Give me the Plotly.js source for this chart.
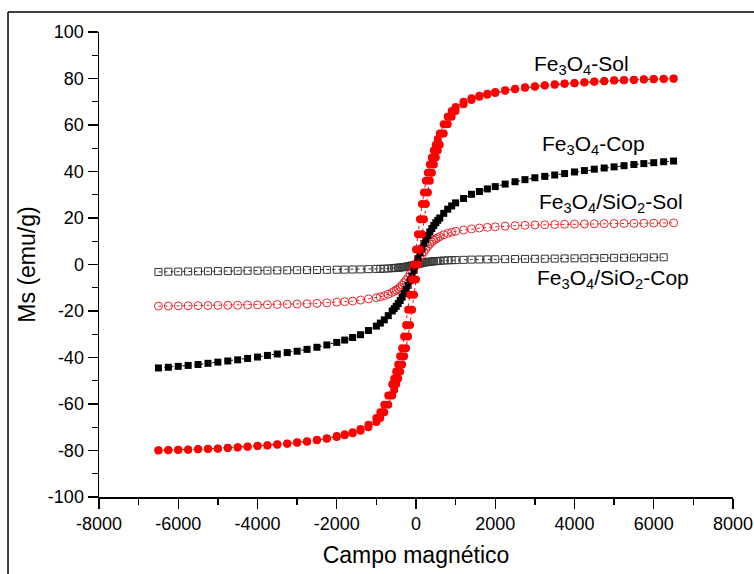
<!DOCTYPE html>
<html>
<head>
<meta charset="utf-8">
<script src="https://cdn.plot.ly/plotly-3.0.1.min.js"></script>
<style>html,body{margin:0;padding:0;background:#fff;}#chart{width:754px;height:574px;}</style>
</head>
<body>
<div id="chart"></div>
<script>
// Magnetic field (Oe), descending sweep +6500 -> -6500
var fieldDown = [6500, 6250, 6000, 5750, 5500, 5250, 5000, 4750, 4500, 4250, 4000, 3750, 3500, 3250, 3000, 2750, 2500, 2250, 2000,
  1800, 1600, 1400, 1200, 1000, 900, 800, 700, 600, 550, 500, 450, 400, 350, 300, 250, 200, 150, 100, 50, 0,
  -50, -100, -150, -200, -250, -300, -350, -400, -450, -500, -550, -600, -700, -800, -900, -1000,
  -1200, -1400, -1600, -1800, -2000, -2250, -2500, -2750, -3000, -3250, -3500, -3750, -4000, -4250, -4500, -4750,
  -5000, -5250, -5500, -5750, -6000, -6250, -6500];
// Magnetic field (Oe), ascending sweep -6500 -> +6500
var fieldUp = [-6500, -6250, -6000, -5750, -5500, -5250, -5000, -4750, -4500, -4250, -4000, -3750, -3500, -3250, -3000, -2750, -2500, -2250, -2000,
  -1800, -1600, -1400, -1200, -1000, -900, -800, -700, -600, -550, -500, -450, -400, -350, -300, -250, -200, -150, -100, -50, 0,
  50, 100, 150, 200, 250, 300, 350, 400, 450, 500, 550, 600, 700, 800, 900, 1000,
  1200, 1400, 1600, 1800, 2000, 2250, 2500, 2750, 3000, 3250, 3500, 3750, 4000, 4250, 4500, 4750,
  5000, 5250, 5500, 5750, 6000, 6250, 6500];

// Fe3O4-Sol (emu/g)
var solDown = [80, 79.9, 79.8, 79.7, 79.5, 79.4, 79.2, 78.9, 78.7, 78.4, 78.1, 77.8, 77.5, 77.1, 76.7, 76.2, 75.6, 74.9, 74.2,
  73.4, 72.6, 71.5, 70, 67.7, 66, 63.5, 60.3, 56.3, 54, 51.5, 49, 46, 43, 39.5, 36, 31, 26, 19.5, 13, 6.5,
  0, -6.5, -13, -19.5, -26, -31, -36, -39.5, -43, -46, -49, -51.5, -56.3, -60.3, -63.5, -66,
  -68.9, -70.8, -72.1, -73, -73.8, -74.7, -75.4, -76, -76.5, -77, -77.3, -77.7, -78, -78.3, -78.6, -78.8,
  -79.1, -79.3, -79.4, -79.6, -79.7, -79.8, -79.9];
var solUp = [-80, -79.9, -79.8, -79.7, -79.5, -79.4, -79.2, -78.9, -78.7, -78.4, -78.1, -77.8, -77.5, -77.1, -76.7, -76.2, -75.6, -74.9, -74.2,
  -73.4, -72.6, -71.5, -70, -67.7, -66, -63.5, -60.3, -56.3, -54, -51.5, -49, -46, -43, -39.5, -36, -31, -26, -19.5, -13, -6.5,
  0, 6.5, 13, 19.5, 26, 31, 36, 39.5, 43, 46, 49, 51.5, 56.3, 60.3, 63.5, 66,
  68.9, 70.8, 72.1, 73, 73.8, 74.7, 75.4, 76, 76.5, 77, 77.3, 77.7, 78, 78.3, 78.6, 78.8,
  79.1, 79.3, 79.4, 79.6, 79.7, 79.8, 79.9];

// Fe3O4-Cop (emu/g), on fieldUp
var cop = [-44.5, -44.2, -43.8, -43.4, -43, -42.5, -42, -41.5, -41, -40.4, -39.8, -39.1, -38.5, -37.9, -37.3, -36.5, -35.6, -34.6, -33.5,
  -32.5, -31.4, -30.2, -28.4, -26.5, -25.2, -23.8, -22, -20, -19, -18, -16.8, -15.5, -14, -12.5, -10.8, -9, -7, -5, -2.5, 0,
  2.5, 5, 7, 9, 10.8, 12.5, 14, 15.5, 16.8, 18, 19, 20, 22, 23.8, 25.2, 26.5,
  28.4, 30.2, 31.4, 32.5, 33.5, 34.6, 35.6, 36.5, 37.3, 37.9, 38.5, 39.1, 39.8, 40.4, 41, 41.5,
  42, 42.5, 43, 43.4, 43.8, 44.2, 44.5];

// Fe3O4/SiO2-Sol (emu/g), on fieldUp
var silSol = [-17.9, -17.85, -17.8, -17.75, -17.7, -17.65, -17.6, -17.55, -17.5, -17.45, -17.4, -17.3, -17.2, -17.1, -17, -16.9, -16.7, -16.5, -16.2,
  -16, -15.7, -15.3, -14.8, -14.3, -13.9, -13.4, -12.8, -12, -11.5, -11, -10.4, -9.7, -8.8, -7.8, -6.7, -5.5, -4.2, -2.9, -1.5, 0,
  1.5, 2.9, 4.2, 5.5, 6.7, 7.8, 8.8, 9.7, 10.4, 11, 11.5, 12, 12.8, 13.4, 13.9, 14.3,
  14.8, 15.3, 15.7, 16, 16.2, 16.5, 16.7, 16.9, 17, 17.1, 17.2, 17.3, 17.4, 17.45, 17.5, 17.55,
  17.6, 17.65, 17.7, 17.75, 17.8, 17.85, 17.9];

// Fe3O4/SiO2-Cop (emu/g), on fieldUp (no point at +6500)
var silCop = [-3.2, -3.1, -3.05, -3, -2.95, -2.9, -2.85, -2.8, -2.75, -2.7, -2.65, -2.6, -2.55, -2.5, -2.45, -2.4, -2.35, -2.3, -2.25,
  -2.2, -2.15, -2.1, -2, -1.9, -1.85, -1.8, -1.7, -1.6, -1.5, -1.45, -1.4, -1.3, -1.2, -1.1, -0.95, -0.8, -0.6, -0.4, -0.2, 0,
  0.2, 0.4, 0.6, 0.8, 0.95, 1.1, 1.2, 1.3, 1.4, 1.45, 1.5, 1.6, 1.7, 1.8, 1.85, 1.9,
  2, 2.1, 2.15, 2.2, 2.25, 2.3, 2.35, 2.4, 2.45, 2.5, 2.55, 2.6, 2.65, 2.7, 2.75, 2.8,
  2.85, 2.9, 2.95, 3, 3.05, 3.1, null];

var xTickVals = [-8000, -6000, -4000, -2000, 0, 2000, 4000, 6000, 8000];
var yTickVals = [-100, -80, -60, -40, -20, 0, 20, 40, 60, 80, 100];
var seriesLabels = ["Fe<sub>3</sub>O<sub>4</sub>-Sol", "Fe<sub>3</sub>O<sub>4</sub>-Cop",
  "Fe<sub>3</sub>O<sub>4</sub>/SiO<sub>2</sub>-Sol", "Fe<sub>3</sub>O<sub>4</sub>/SiO<sub>2</sub>-Cop"];

var FONT = "Liberation Sans, Arial, Helvetica, sans-serif";
function line(c){ return {color: c, width: 1, dash: 'dot'}; }

var traces = [
  {x: fieldUp, y: silCop, mode: 'lines+markers', line: line('#333'),
   marker: {symbol: 'square-open', size: 7, color: '#333', line: {width: 1, color: '#333'}}},
  {x: fieldUp, y: silSol, mode: 'lines+markers', line: line('#e8262b'),
   marker: {symbol: 'circle-open', size: 8, color: '#e8262b', line: {width: 1, color: '#e8262b'}}},
  {x: fieldUp, y: cop, mode: 'lines+markers', line: line('#000'),
   marker: {symbol: 'square', size: 7, color: '#000'}},
  {x: fieldDown, y: solDown, mode: 'lines+markers', line: line('#ff0000'),
   marker: {symbol: 'circle', size: 8, color: '#ff0000'}},
  {x: fieldUp, y: solUp, mode: 'lines+markers', line: line('#ff0000'),
   marker: {symbol: 'circle', size: 8, color: '#ff0000'}}
];

var labelPos = [[2927, 85.6], [3129, 51.4], [3054, 26.4], [3003, -6.4]];
var annotations = seriesLabels.map(function(t, i){
  return {text: t, x: labelPos[i][0], y: labelPos[i][1], xref: 'x', yref: 'y',
    xanchor: 'left', yanchor: 'middle', showarrow: false,
    font: {family: FONT, size: 21, color: '#000'}};
});

var layout = {
  width: 754, height: 574,
  margin: {l: 99, r: 21, t: 32, b: 77, pad: 0},
  paper_bgcolor: '#fff', plot_bgcolor: '#fff',
  showlegend: false,
  font: {family: FONT, color: '#000'},
  xaxis: {
    range: [-8000, 8000], tickvals: xTickVals, ticktext: xTickVals.map(String),
    ticks: 'outside', ticklen: 10, tickwidth: 1.3, tickcolor: '#000',
    minor: {dtick: 1000, tick0: 0, ticks: 'outside', ticklen: 6, tickwidth: 1.3, tickcolor: '#000'},
    showline: true, linecolor: '#000', linewidth: 1.5,
    showgrid: false, zeroline: false, automargin: false,
    tickfont: {family: FONT, size: 18, color: '#000'},
    title: {text: 'Campo magnético', font: {family: FONT, size: 23, color: '#000'}, standoff: 14}
  },
  yaxis: {
    range: [-100, 100], tickvals: yTickVals, ticktext: yTickVals.map(String),
    ticks: 'outside', ticklen: 10, tickwidth: 1.3, tickcolor: '#000',
    minor: {dtick: 10, tick0: 0, ticks: 'outside', ticklen: 6, tickwidth: 1.3, tickcolor: '#000'},
    showline: true, linecolor: '#000', linewidth: 1.5,
    showgrid: false, zeroline: false, automargin: false,
    tickfont: {family: FONT, size: 18, color: '#000'},
    title: {text: 'Ms (emu/g)', font: {family: FONT, size: 23, color: '#000'}, standoff: 6}
  },
  annotations: annotations,
  shapes: [
    {type: 'line', xref: 'paper', yref: 'paper', x0: -0.1435, x1: 1.05, y0: 1.043, y1: 1.043, line: {color: '#000', width: 1.5}},
    {type: 'line', xref: 'paper', yref: 'paper', x0: -0.1435, x1: -0.1435, y0: 1.043, y1: -0.2, line: {color: '#000', width: 1.5}}
  ]
};

Plotly.newPlot('chart', traces, layout, {displayModeBar: false, staticPlot: true});
</script>
</body>
</html>
